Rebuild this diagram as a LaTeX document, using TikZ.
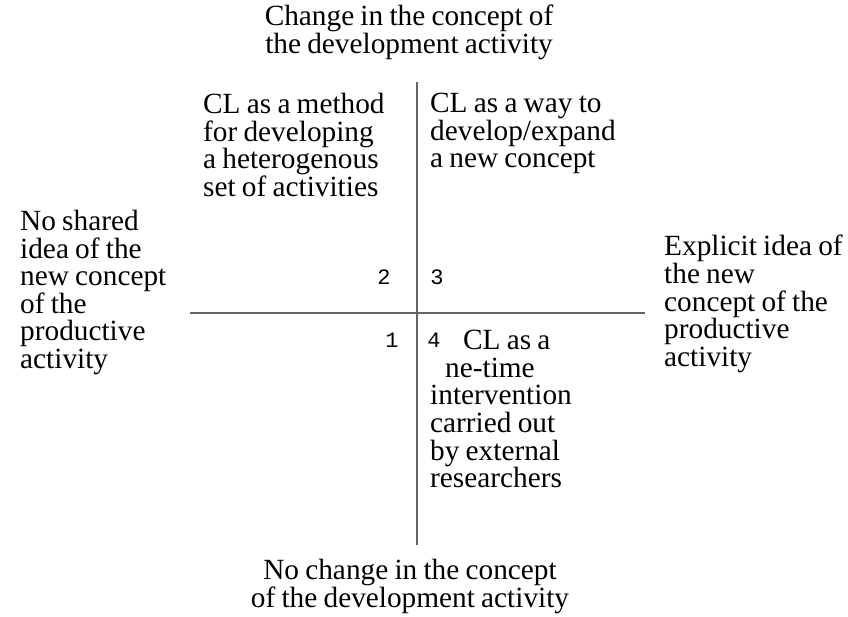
\documentclass[tikz,border=0pt]{standalone}
\usepackage{fontspec}
\setmainfont[WordSpace=0.85]{Liberation Serif}
\setmonofont{Liberation Mono}
\usepackage{tikz}
\usetikzlibrary{positioning}

\begin{document}
\begin{tikzpicture}[x=1pt, y=-1pt,
    lbl/.style={inner sep=0pt, font=\fontsize{29.3}{27.6}\selectfont, align=left},
    num/.style={inner sep=0pt, font=\ttfamily\fontsize{22}{22}\selectfont},
    axis/.style={draw=black!60, line width=1.3pt}]
  \useasboundingbox (0,0) rectangle (848,616);
  % axes
  \coordinate (top) at (417, 82);
  \coordinate (bot) at (417, 545);
  \coordinate (lft) at (190, 313);
  \coordinate (rgt) at (645, 313);
  \draw[axis] (top) -- (bot);
  \draw[axis] (lft) -- (rgt);
  % axis labels
  \node[lbl, align=center, anchor=north] (change) at (409, 5) {Change in the concept of\\the development activity};
  \node[lbl, align=center, anchor=north] (nochange) at (410, 559) {No change in the concept\\of the development activity};
  \node[lbl, anchor=north west] (noidea) at (20, 210) {No shared\\idea of the\\new concept\\of the\\productive\\activity};
  \node[lbl, anchor=north west] (explicit) at (664, 235) {Explicit idea of\\the new\\concept of the\\productive\\activity};
  % quadrant texts
  \node[lbl, anchor=north west] (method) at (203, 93) {CL as a method\\for developing\\a heterogenous\\set of activities};
  \node[lbl, anchor=north west] (way) at (430, 93) {CL as a way to\\develop/expand\\a new concept};
  \node[lbl, anchor=north west] (onetime) at (430, 330) {\hspace*{33pt}CL as a\\\hspace*{15pt}ne-time\\intervention\\carried out\\by external\\researchers};
  % quadrant numbers
  \node[num] (n2) at (384, 277) {2};
  \node[num] (n3) at (437, 277) {3};
  \node[num] (n1) at (392, 340) {1};
  \node[num] (n4) at (434, 340) {4};
\end{tikzpicture}
\end{document}
